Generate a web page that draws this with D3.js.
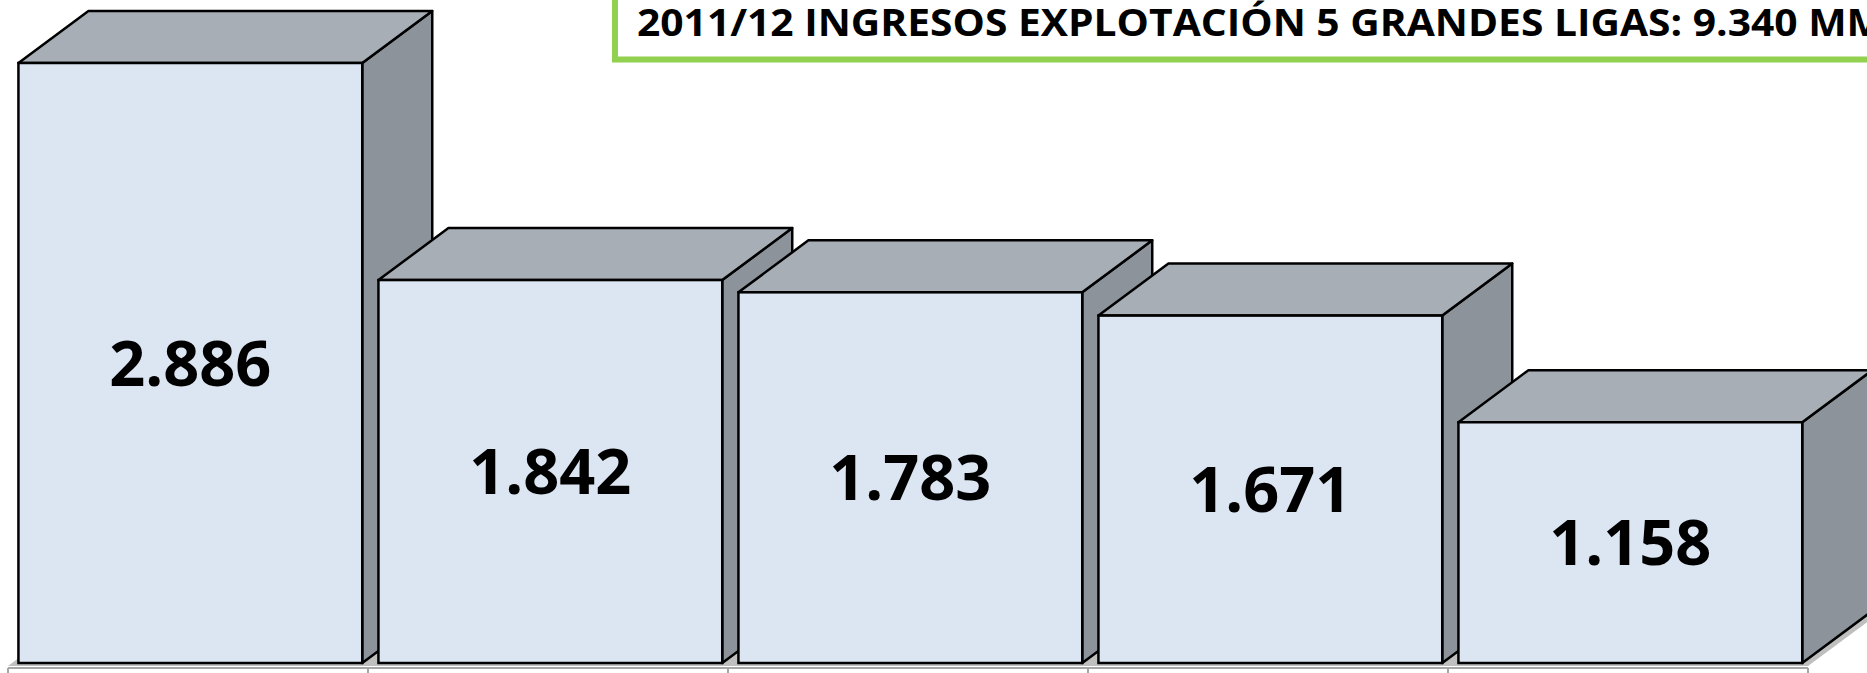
<!DOCTYPE html>
<html>
<head>
<meta charset="utf-8">
<script src="https://cdn.jsdelivr.net/npm/d3@7"></script>
<style>
  html, body { margin: 0; padding: 0; background: #fff; overflow: hidden; }
  svg { display: block; }
</style>
</head>
<body>
<script>
const width = 1867;
const height = 673;

// data
const leagues = ['Premier League', 'Bundesliga', 'Liga BBVA', 'Serie A', 'Ligue 1'];
const ingresos = [2886, 1842, 1783, 1671, 1158];
const titulo = '2011/12 INGRESOS EXPLOTACIÓN 5 GRANDES LIGAS: 9.340 MM';

const es = d3.formatLocale({ decimal: ',', thousands: '.', grouping: [3], currency: ['', ' €'] });
const fmt = es.format(',d');

const svg = d3.select('body')
    .append('svg')
    .attr('width', width)
    .attr('height', height);

const x = d3.scaleBand()
    .domain(leagues)
    .range([8, 1808])
    .paddingInner(0)
    .paddingOuter(0);

const y = d3.scaleLinear()
    .domain([0, 2886])
    .range([663, 63]);

// depth of the 3d boxes
const dx = 70, dy = -52;
const offs = 0.029, bw = 0.955;

const floorY = y(0);

// floor
svg.append('path')
    .attr('d', `M${x.range()[0]},${floorY + 3}L${x.range()[1]},${floorY + 3}L${x.range()[1] + dx},${floorY + 3 + dy}L${x.range()[0] + dx},${floorY + 3 + dy}Z`)
    .attr('fill', '#bfbfbf');

// axis line with ticks at the band edges
const axis = svg.append('g').attr('transform', `translate(0,${floorY + 5})`);
axis.append('line')
    .attr('x1', x.range()[0]).attr('x2', x.range()[1])
    .attr('stroke', '#a6a6a6').attr('stroke-width', 2);
const edges = leagues.map(d => x(d)).concat([x.range()[1]]);
axis.selectAll('.tick')
    .data(edges)
    .join('line')
    .attr('class', 'tick')
    .attr('x1', d => d).attr('x2', d => d)
    .attr('y1', 0).attr('y2', 8)
    .attr('stroke', '#a6a6a6').attr('stroke-width', 2);

const data = leagues.map((d, i) => ({ liga: d, valor: ingresos[i] }));

const bars = svg.selectAll('g.bar')
    .data(data)
    .join('g')
    .attr('class', 'bar');

const x0 = d => x(d.liga) + x.bandwidth() * offs;
const x1 = d => x0(d) + x.bandwidth() * bw;

// side
bars.append('path')
    .attr('d', d => `M${x1(d)},${y(d.valor)}L${x1(d) + dx},${y(d.valor) + dy}L${x1(d) + dx},${floorY + dy}L${x1(d)},${floorY}Z`)
    .attr('fill', '#8c939b')
    .attr('stroke', '#000')
    .attr('stroke-width', 2.5)
    .attr('stroke-linejoin', 'round');

// top
bars.append('path')
    .attr('d', d => `M${x0(d)},${y(d.valor)}L${x0(d) + dx},${y(d.valor) + dy}L${x1(d) + dx},${y(d.valor) + dy}L${x1(d)},${y(d.valor)}Z`)
    .attr('fill', '#a7aeb6')
    .attr('stroke', '#000')
    .attr('stroke-width', 2.5)
    .attr('stroke-linejoin', 'round');

// front
bars.append('rect')
    .attr('x', d => x0(d))
    .attr('y', d => y(d.valor))
    .attr('width', d => x1(d) - x0(d))
    .attr('height', d => floorY - y(d.valor))
    .attr('fill', '#dce6f2')
    .attr('stroke', '#000')
    .attr('stroke-width', 2.5);

bars.append('text')
    .attr('x', d => (x0(d) + x1(d)) / 2)
    .attr('y', d => (y(d.valor) + floorY) / 2)
    .attr('dy', '0.36em')
    .attr('text-anchor', 'middle')
    .attr('font-family', '"Open Sans", sans-serif')
    .attr('font-weight', 'bold')
    .attr('font-size', 63)
    .attr('fill', '#000')
    .text(d => fmt(d.valor));

// title box
svg.append('rect')
    .attr('x', 615)
    .attr('y', -20)
    .attr('width', 1400)
    .attr('height', 79.5)
    .attr('fill', '#fff')
    .attr('stroke', '#92d050')
    .attr('stroke-width', 6);

svg.append('text')
    .attr('x', 637)
    .attr('y', 36)
    .attr('font-family', '"Open Sans", sans-serif')
    .attr('font-weight', 'bold')
    .attr('font-size', 38)
    .attr('textLength', 1248)
    .attr('lengthAdjust', 'spacingAndGlyphs')
    .attr('fill', '#000')
    .text(titulo);
</script>
</body>
</html>
